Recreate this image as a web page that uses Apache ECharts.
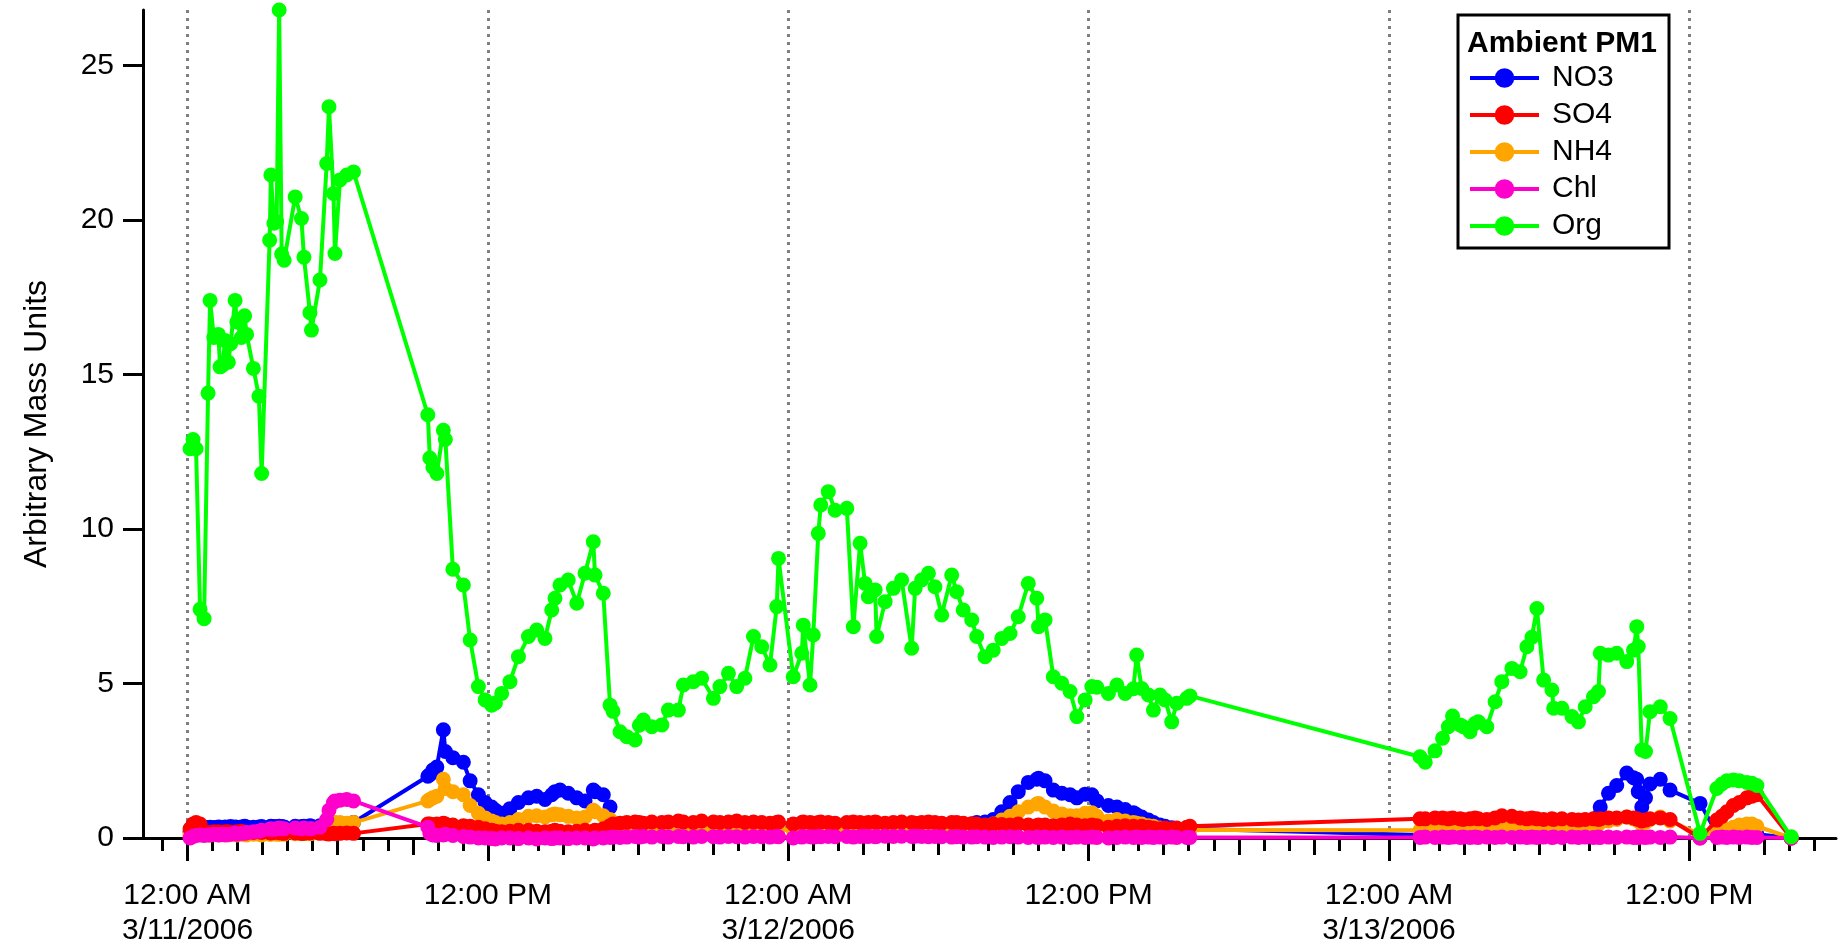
<!DOCTYPE html>
<html>
<head>
<meta charset="utf-8">
<script src="https://cdn.jsdelivr.net/npm/echarts@6/dist/echarts.min.js"></script>
<style>
html,body{margin:0;padding:0;background:#fff;}
#chart{width:1838px;height:946px;}
</style>
</head>
<body>
<div id="chart"></div>
<script>
// ---- DATA (time in hours after 3/11/2006 12:00 AM) ----
const hours = [
  // night of 3/11
  0.10,0.22,0.34,0.50,0.66,0.82,0.90,1.05,1.23,1.30,
  1.40,1.50,1.63,1.72,1.90,1.97,2.15,2.28,2.36,2.63,
  2.85,2.96,3.28,3.33,3.45,3.56,3.66,3.76,3.86,4.30,
  4.55,4.65,4.89,4.95,5.29,5.56,5.65,5.83,5.89,6.09,
  6.36,6.63,
  // 3/11 09:30 -> 3/12 16:00
  9.60,9.68,9.80,9.96,10.22,10.30,10.60,11.02,11.29,11.62,
  11.89,12.15,12.30,12.55,12.88,13.22,13.62,13.95,14.28,14.55,
  14.68,14.88,15.21,15.55,15.88,16.21,16.28,16.61,16.88,17.00,
  17.28,17.55,17.88,18.05,18.21,18.55,18.95,19.21,19.61,19.81,
  20.21,20.54,21.01,21.27,21.61,21.94,22.27,22.61,22.94,23.27,
  23.54,23.61,24.20,24.54,24.60,24.87,25.00,25.20,25.30,25.60,
  25.87,26.34,26.60,26.87,27.07,27.20,27.47,27.53,27.87,28.20,
  28.53,28.93,29.07,29.33,29.60,29.86,30.13,30.53,30.73,30.99,
  31.33,31.53,31.86,32.19,32.53,32.86,33.19,33.59,33.93,34.00,
  34.26,34.59,34.93,35.26,35.53,35.86,36.13,36.33,36.79,37.13,
  37.46,37.79,37.92,38.12,38.39,38.59,38.85,39.05,39.32,39.52,
  39.92,40.05,
  // 3/13
  49.24,49.45,49.84,50.14,50.37,50.54,50.84,50.97,51.24,51.44,
  51.57,51.91,52.24,52.51,52.91,53.24,53.51,53.71,53.91,54.18,
  54.51,54.58,54.91,55.31,55.57,55.84,56.17,56.37,56.44,56.77,
  57.10,57.50,57.77,57.90,57.96,58.10,58.25,58.43,58.84,59.23,
  60.43,61.10,61.30,61.50,61.76,62.00,62.30,62.50,62.70,64.07
];

const NO3 = [
  0.2,0.28,0.32,0.35,0.35,0.33,0.35,0.34,0.36,0.35,
  0.34,0.36,0.35,0.37,0.36,0.35,0.36,0.38,0.36,0.35,
  0.36,0.37,0.36,0.38,0.37,0.36,0.38,0.37,0.36,0.38,
  0.37,0.38,0.4,0.38,0.4,0.4,0.42,0.42,0.45,0.45,
  0.45,0.5,
  2.0,2.05,2.2,2.3,3.5,2.8,2.6,2.45,1.85,1.4,
  1.15,1.0,0.9,0.8,0.95,1.15,1.3,1.35,1.25,1.4,
  1.5,1.55,1.45,1.3,1.2,1.55,1.5,1.4,1.0,0.4,
  0.35,0.3,0.3,0.3,0.3,0.28,0.3,0.3,0.32,0.3,
  0.3,0.32,0.3,0.3,0.32,0.3,0.3,0.32,0.3,0.3,
  0.3,0.32,0.3,0.3,0.32,0.3,0.3,0.32,0.3,0.3,
  0.3,0.32,0.3,0.3,0.3,0.32,0.3,0.3,0.32,0.3,
  0.3,0.3,0.32,0.3,0.35,0.35,0.38,0.4,0.42,0.45,
  0.45,0.5,0.52,0.6,0.85,1.15,1.5,1.8,1.9,1.93,
  1.85,1.55,1.45,1.4,1.3,1.42,1.4,1.2,1.05,1.0,
  0.92,0.82,0.75,0.68,0.58,0.5,0.42,0.38,0.33,0.3,
  0.3,0.3,
  0.1,0.12,0.15,0.15,0.18,0.15,0.18,0.2,0.18,0.2,
  0.2,0.22,0.2,0.25,0.22,0.25,0.25,0.28,0.25,0.3,
  0.3,0.32,0.3,0.35,0.35,0.4,0.45,0.7,1.0,1.45,
  1.7,2.1,1.95,1.9,1.5,1.0,1.3,1.75,1.9,1.55,
  1.12,0.15,0.12,0.1,0.1,0.12,0.1,0.1,0.12,0.0
];

const SO4 = [
  0.3,0.45,0.5,0.45,0.2,0.17,0.18,0.2,0.2,0.18,
  0.17,0.2,0.2,0.18,0.17,0.2,0.22,0.18,0.17,0.18,
  0.2,0.18,0.17,0.16,0.18,0.2,0.17,0.16,0.15,0.16,
  0.15,0.15,0.16,0.18,0.15,0.14,0.13,0.15,0.14,0.15,
  0.16,0.15,
  0.45,0.45,0.42,0.45,0.48,0.45,0.42,0.4,0.38,0.35,
  0.3,0.25,0.22,0.2,0.22,0.25,0.25,0.22,0.2,0.22,
  0.25,0.22,0.2,0.22,0.25,0.22,0.25,0.3,0.4,0.45,
  0.48,0.5,0.52,0.5,0.48,0.52,0.5,0.52,0.55,0.52,
  0.5,0.55,0.52,0.5,0.52,0.55,0.5,0.52,0.5,0.48,
  0.5,0.52,0.45,0.5,0.52,0.5,0.48,0.5,0.52,0.5,
  0.48,0.5,0.52,0.5,0.48,0.5,0.52,0.5,0.48,0.5,
  0.52,0.5,0.48,0.5,0.52,0.5,0.48,0.5,0.5,0.48,
  0.46,0.45,0.42,0.45,0.44,0.42,0.45,0.42,0.4,0.42,
  0.42,0.4,0.42,0.45,0.42,0.4,0.42,0.4,0.35,0.38,
  0.4,0.38,0.35,0.38,0.35,0.32,0.3,0.32,0.3,0.32,
  0.35,0.38,
  0.62,0.62,0.65,0.65,0.62,0.65,0.62,0.6,0.62,0.65,
  0.62,0.6,0.65,0.72,0.7,0.65,0.62,0.65,0.62,0.6,
  0.62,0.6,0.62,0.6,0.58,0.6,0.62,0.6,0.62,0.65,
  0.65,0.68,0.65,0.62,0.6,0.55,0.58,0.62,0.65,0.6,
  0.0,0.58,0.7,0.85,1.05,1.15,1.3,1.35,1.4,0.0
];

const NH4 = [
  0.1,0.12,0.1,0.12,0.1,0.12,0.1,0.12,0.12,0.1,
  0.12,0.12,0.1,0.12,0.12,0.1,0.12,0.12,0.1,0.12,
  0.12,0.1,0.12,0.12,0.14,0.12,0.12,0.14,0.12,0.14,
  0.14,0.15,0.14,0.15,0.18,0.25,0.4,0.5,0.5,0.5,
  0.48,0.5,
  1.2,1.25,1.3,1.35,1.9,1.6,1.5,1.4,1.05,0.8,
  0.65,0.55,0.5,0.45,0.5,0.6,0.7,0.72,0.68,0.75,
  0.78,0.75,0.7,0.65,0.68,0.9,0.85,0.72,0.6,0.3,
  0.25,0.22,0.22,0.25,0.25,0.22,0.25,0.25,0.28,0.25,
  0.25,0.28,0.25,0.28,0.3,0.25,0.28,0.3,0.28,0.25,
  0.28,0.3,0.25,0.25,0.28,0.25,0.25,0.28,0.28,0.25,
  0.25,0.28,0.25,0.25,0.28,0.25,0.25,0.28,0.25,0.25,
  0.25,0.25,0.28,0.25,0.28,0.3,0.3,0.32,0.33,0.35,
  0.35,0.38,0.4,0.45,0.58,0.7,0.85,1.0,1.1,1.12,
  1.0,0.87,0.78,0.72,0.72,0.8,0.82,0.7,0.55,0.6,
  0.55,0.5,0.48,0.45,0.4,0.38,0.32,0.3,0.28,0.27,
  0.26,0.26,
  0.25,0.32,0.3,0.32,0.35,0.33,0.32,0.35,0.33,0.35,
  0.35,0.33,0.35,0.38,0.36,0.38,0.36,0.35,0.38,0.36,
  0.35,0.33,0.35,0.33,0.35,0.38,0.4,0.45,0.5,0.55,
  0.6,0.68,0.62,0.6,0.55,0.45,0.5,0.6,0.68,0.55,
  0.12,0.15,0.2,0.28,0.35,0.42,0.45,0.45,0.38,0.0
];

const Chl = [
  0.0,0.05,0.08,0.1,0.08,0.1,0.1,0.12,0.1,0.12,
  0.12,0.1,0.12,0.12,0.15,0.12,0.15,0.15,0.18,0.2,
  0.22,0.25,0.28,0.3,0.28,0.3,0.32,0.3,0.3,0.32,
  0.3,0.32,0.3,0.3,0.35,0.6,0.9,1.15,1.2,1.22,
  1.25,1.2,
  0.35,0.15,0.1,0.08,0.1,0.12,0.08,0.05,0.03,0.0,
  0.0,-0.02,-0.03,0.0,0.0,-0.02,0.0,-0.03,0.0,-0.02,
  0.0,0.0,-0.02,0.0,0.0,-0.03,0.0,0.0,0.02,0.03,
  0.02,0.03,0.05,0.03,0.05,0.03,0.05,0.03,0.05,0.04,
  0.03,0.05,0.04,0.03,0.05,0.04,0.03,0.05,0.04,0.03,
  0.05,0.04,0.0,0.03,0.05,0.04,0.03,0.05,0.04,0.05,
  0.04,0.05,0.03,0.05,0.06,0.05,0.04,0.05,0.06,0.05,
  0.06,0.05,0.06,0.05,0.04,0.05,0.04,0.03,0.04,0.03,
  0.03,0.04,0.03,0.02,0.03,0.04,0.03,0.02,0.03,0.02,
  0.03,0.02,0.03,0.02,0.03,0.02,0.03,0.02,0.0,0.02,
  0.03,0.02,0.03,0.02,0.03,0.02,0.03,0.02,0.03,0.02,
  0.02,0.02,
  0.02,0.03,0.02,0.03,0.02,0.03,0.02,0.03,0.02,0.03,
  0.02,0.03,0.02,0.03,0.02,0.03,0.02,0.03,0.02,0.03,
  0.02,0.03,0.02,0.03,0.02,0.03,0.02,0.03,0.02,0.03,
  0.02,0.03,0.02,0.03,0.02,0.03,0.02,0.03,0.02,0.03,
  0.0,0.02,0.03,0.02,0.03,0.02,0.03,0.02,0.02,0.0
];

const Org = [
  12.6,12.9,12.6,7.4,7.1,14.4,17.4,16.2,16.3,15.25,
  15.3,16.1,15.4,16.0,17.4,16.7,16.2,16.9,16.3,15.2,
  14.3,11.8,19.35,21.46,19.9,19.95,26.8,18.9,18.7,20.75,
  20.05,18.8,17.0,16.44,18.06,21.83,23.67,20.86,18.92,21.3,
  21.46,21.56,
  13.7,12.3,12.0,11.8,13.2,12.9,8.7,8.19,6.41,4.90,
  4.47,4.30,4.37,4.68,5.06,5.87,6.52,6.73,6.46,7.38,
  7.76,8.19,8.35,7.60,8.57,9.59,8.51,7.92,4.30,4.10,
  3.44,3.28,3.17,3.65,3.82,3.60,3.66,4.14,4.14,4.95,
  5.06,5.17,4.52,4.90,5.33,4.90,5.17,6.52,6.19,5.60,
  7.49,9.05,5.22,5.98,6.89,4.95,6.57,9.86,10.78,11.21,
  10.61,10.67,6.84,9.54,8.24,7.81,8.03,6.52,7.65,8.08,
  8.35,6.14,8.08,8.35,8.57,8.13,7.22,8.51,7.97,7.38,
  7.06,6.52,5.87,6.08,6.46,6.62,7.16,8.24,7.76,6.84,
  7.06,5.22,5.01,4.74,3.93,4.47,4.90,4.88,4.68,4.95,
  4.68,4.83,5.92,4.84,4.63,4.14,4.63,4.47,3.76,4.36,
  4.52,4.60,
  2.63,2.45,2.82,3.23,3.60,3.95,3.66,3.60,3.44,3.71,
  3.76,3.60,4.41,5.06,5.49,5.38,6.19,6.50,7.43,5.11,
  4.79,4.20,4.20,3.93,3.76,4.25,4.57,4.74,5.98,5.92,
  5.98,5.71,6.08,6.84,6.20,2.85,2.80,4.09,4.25,3.87,
  0.15,1.60,1.75,1.85,1.88,1.85,1.80,1.77,1.70,0.04
];

const seriesNames = ['NO3', 'SO4', 'NH4', 'Chl', 'Org'];
const tickHours = [0, 12, 24, 36, 48, 60];
const tickLabels = ['12:00 AM\n3/11/2006', '12:00 PM', '12:00 AM\n3/12/2006', '12:00 PM', '12:00 AM\n3/13/2006', '12:00 PM'];
const yTicks = [0, 5, 10, 15, 20, 25];
const axisStartHour = -1.78;
const axisEndHour = 65.86;
const yMax = 26.8;

// ---- BUILD ----
[NO3, SO4, NH4, Chl, Org].forEach((a, i) => {
  if (a.length !== hours.length) throw new Error('length mismatch ' + seriesNames[i] + ' ' + a.length + ' vs ' + hours.length);
});

const base = Date.UTC(2006, 2, 11, 0, 0, 0);
const toTime = h => base + h * 3600000;
const pairs = vals => hours.map((h, i) => [toTime(h), vals[i]]);
const xMin = toTime(axisStartHour), xMax = toTime(axisEndHour);
const majorTicks = tickHours.map(toTime);
const mediumTicks = [], minorTicks = [];
for (let h = Math.ceil(axisStartHour); h <= Math.floor(axisEndHour); h++) {
  if (h % 3 === 0) mediumTicks.push(toTime(h)); else minorTicks.push(toTime(h));
}
const FONT = '"Liberation Sans", Arial, Helvetica, sans-serif';

function labelFor(v) {
  for (let i = 0; i < majorTicks.length; i++) if (Math.abs(majorTicks[i] - v) < 1000) return tickLabels[i];
  return '';
}
function tickAxis(ticks, len) {
  return {
    type: 'value', gridIndex: 0, position: 'bottom', min: xMin, max: xMax,
    axisLine: { show: false, onZero: false },
    axisLabel: { show: false },
    splitLine: { show: false },
    axisTick: { show: true, customValues: ticks, length: len, lineStyle: { color: '#000', width: 3 } }
  };
}
function mk(name, vals, color, z) {
  return {
    name, type: 'line', data: pairs(vals), z,
    symbol: 'circle', symbolSize: 13, showSymbol: true, showAllSymbol: true, clip: false,
    lineStyle: { color, width: 4 },
    itemStyle: { color, borderColor: color, borderWidth: 2 },
    emphasis: { disabled: true }, silent: true
  };
}

const chart = echarts.init(document.getElementById('chart'), null, { renderer: 'canvas' });
chart.setOption({
  animation: false,
  backgroundColor: '#ffffff',
  grid: { left: 143, right: 2, top: 10, bottom: 108, containLabel: false, outerBoundsMode: 'none' },
  xAxis: [
    {
      type: 'value', gridIndex: 0, position: 'bottom', min: xMin, max: xMax,
      axisLine: { show: true, onZero: false, lineStyle: { color: '#000', width: 3 } },
      axisTick: { show: true, customValues: majorTicks, length: 23, lineStyle: { color: '#000', width: 3 } },
      axisLabel: {
        customValues: majorTicks, formatter: v => labelFor(v), hideOverlap: false,
        fontSize: 30, fontFamily: FONT, color: '#000', lineHeight: 35, margin: 40
      },
      splitLine: { show: true, lineStyle: { color: '#7f7f7f', width: 3, type: [3, 5] } }
    },
    tickAxis(mediumTicks, 17),
    tickAxis(minorTicks, 13)
  ],
  yAxis: {
    type: 'value', min: 0, max: yMax, position: 'left',
    axisLine: { show: true, onZero: false, lineStyle: { color: '#000', width: 3 } },
    axisTick: { show: true, customValues: yTicks, length: 20, lineStyle: { color: '#000', width: 3 } },
    axisLabel: { customValues: yTicks, fontSize: 30, fontFamily: FONT, color: '#000', margin: 29 },
    splitLine: { show: false },
    name: 'Arbitrary Mass Units', nameLocation: 'middle', nameGap: 90,
    nameTextStyle: { fontSize: 32, fontFamily: FONT, color: '#000' }
  },
  legend: {
    orient: 'vertical', left: 1463, top: 58, itemWidth: 69, itemHeight: 22, itemGap: 7,
    data: seriesNames, selectedMode: false,
    textStyle: { fontSize: 30, fontFamily: FONT, color: '#000', padding: [0, 0, 0, 8] },
    lineStyle: { width: 4 }
  },
  graphic: [
    { type: 'rect', shape: { x: 1458, y: 15, width: 211, height: 233 },
      style: { fill: 'transparent', stroke: '#000', lineWidth: 3 }, z: 10 },
    { type: 'text', x: 1467, y: 44,
      style: { text: 'Ambient PM1', font: 'bold 30px ' + FONT, fill: '#000', align: 'left', verticalAlign: 'middle' }, z: 10 }
  ],
  series: [
    mk('NO3', NO3, '#0000ff', 2),
    mk('NH4', NH4, '#ffa500', 3),
    mk('SO4', SO4, '#ff0000', 4),
    mk('Chl', Chl, '#ff00cc', 5),
    mk('Org', Org, '#00ff00', 6)
  ]
});
</script>
</body>
</html>
